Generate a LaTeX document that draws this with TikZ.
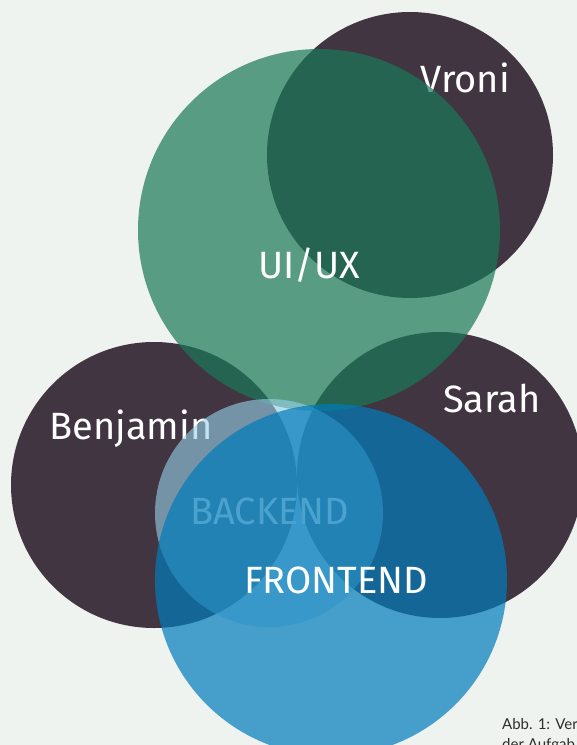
\documentclass[tikz,border=0pt]{standalone}
\usepackage{fontspec}
\setmainfont{Fira Sans}
\newfontfamily\capfont{Lato}
\definecolor{bgc}{RGB}{238,243,239}
\definecolor{personc}{RGB}{66,53,66}
\definecolor{uxc}{RGB}{26,120,87}
\definecolor{backc}{RGB}{151,210,233}
\definecolor{frontc}{RGB}{0,123,187}
\definecolor{capc}{RGB}{45,45,45}
\begin{document}
\begin{tikzpicture}[x=1pt,y=-1pt,
  disc/.style={circle, draw=none, inner sep=0pt, minimum size=#1},
  person/.style={disc=#1, fill=personc},
  uxdisc/.style={disc=#1, fill=uxc, fill opacity=0.7},
  backdisc/.style={disc=#1, fill=backc, fill opacity=0.6},
  frontdisc/.style={disc=#1, fill=frontc, fill opacity=0.7},
  lbl/.style={inner sep=0pt, anchor=base, text=white, font=\fontsize{38}{38}\selectfont},
  caption/.style={inner sep=0pt, anchor=base west, text=capc, font=\capfont\fontsize{15}{15}\selectfont}]
\path[use as bounding box, fill=bgc] (0,0) rectangle (577,745);
\clip (0,0) rectangle (577,745);
% people
\node[person=286pt] (vroni) at (410,155) {};
\node[lbl] (vronit) at (465,92) {Vroni};
\node[person=286pt] (benjamin) at (154,485) {};
\node[lbl] (benjamint) at (131,439) {Benjamin};
\node[person=286pt] (sarah) at (440,475) {};
\node[lbl] (saraht) at (492,412) {Sarah};
% UI/UX
\node[uxdisc=362pt] (ux) at (319,230) {};
\node[lbl] (uxt) at (309,278) {UI/UX};
% backend
\node[backdisc=228pt] (back) at (269,513) {};
\node[lbl] (backt) at (270,524) {BACKEND};
% frontend
\node[frontdisc=352pt] (front) at (331,580) {};
\node[lbl] (frontt) at (336,593) {FRONTEND};
% caption
\node[caption] (cap1) at (502,729) {Abb. 1: Ver};
\node[caption] (cap2) at (502,749) {der Aufgab};
\end{tikzpicture}
\end{document}
